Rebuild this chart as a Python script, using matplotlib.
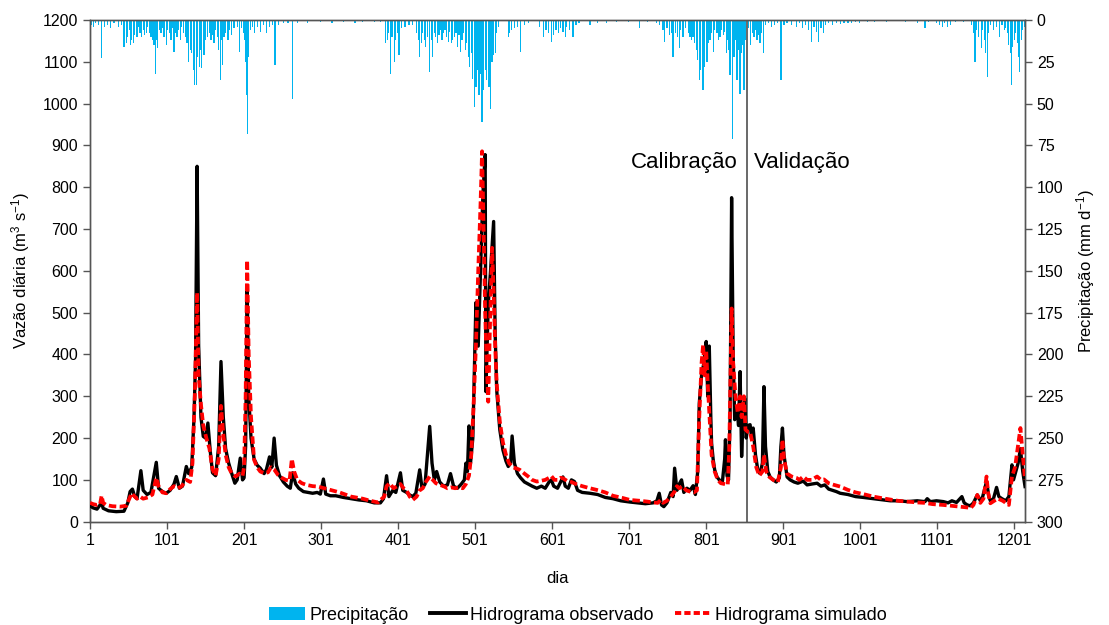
import matplotlib
matplotlib.use("Agg")
import matplotlib.pyplot as plt
from matplotlib.patches import Patch
from matplotlib.lines import Line2D

plt.rcParams['font.family'] = ['Liberation Sans', 'DejaVu Sans']
plt.rcParams['mathtext.fontset'] = 'custom'
plt.rcParams['mathtext.rm'] = 'Liberation Sans'
plt.rcParams['mathtext.it'] = 'Liberation Sans'

# observed hydrograph (day, m3/s)
obs_days = [1, 5, 10, 16, 18, 25, 35, 45, 50, 53, 56, 59, 62, 67, 70, 75, 80, 87, 90, 95,
            100, 105, 110, 113, 117, 121, 126, 129, 133, 136, 138, 140, 142, 145, 148, 151, 154, 157, 160, 164,
            168, 171, 174, 177, 181, 185, 189, 192, 196, 199, 201, 203, 205, 207, 210, 214, 218, 222, 227, 230,
            234, 237, 240, 243, 247, 252, 257, 261, 264, 268, 272, 278, 284, 290, 296, 300, 304, 307, 313, 320,
            330, 340, 350, 360, 370, 378, 382, 386, 389, 394, 398, 404, 407, 412, 416, 420, 424, 429, 432, 436,
            442, 445, 448, 451, 455, 460, 465, 469, 473, 478, 483, 487, 489, 491, 493, 495, 498, 502, 505, 508,
            511, 514, 515, 518, 521, 525, 527, 529, 533, 537, 541, 544, 547, 549, 552, 556, 560, 565, 570, 575,
            581, 587, 592, 597, 600, 603, 608, 612, 615, 618, 622, 626, 630, 634, 640, 650, 660, 670, 680, 690,
            702, 712, 722, 732, 737, 740, 743, 746, 750, 755, 758, 760, 763, 766, 769, 772, 776, 780, 784, 787,
            790, 792, 795, 798, 801, 803, 805, 807, 808, 810, 812, 815, 818, 822, 825, 826, 828, 830, 832, 834,
            836, 838, 841, 843, 845, 847, 849, 851, 853, 855, 858, 860, 862, 865, 868, 871, 874, 876, 878, 881,
            884, 888, 892, 896, 898, 900, 902, 906, 910, 915, 920, 927, 932, 938, 945, 950, 955, 960, 965, 970,
            975, 985, 995, 1005, 1018, 1030, 1040, 1050, 1062, 1075, 1085, 1088, 1092, 1100, 1109, 1115, 1120, 1126, 1133, 1136,
            1140, 1144, 1148, 1153, 1157, 1160, 1165, 1168, 1170, 1174, 1178, 1181, 1185, 1190, 1194, 1198, 1200, 1203, 1206, 1209,
            1212, 1215]
obs_q = [38, 33, 30, 45, 32, 26, 24, 25, 45, 72, 78, 60, 55, 122, 75, 65, 70, 142, 80, 72,
         68, 75, 90, 108, 80, 85, 132, 115, 130, 250, 390, 850, 420, 250, 204, 200, 236, 170, 117, 110,
         180, 383, 250, 175, 140, 115, 92, 100, 152, 100, 105, 180, 560, 300, 200, 150, 135, 128, 115, 125,
         155, 130, 200, 135, 110, 95, 85, 80, 117, 90, 80, 72, 70, 68, 70, 66, 102, 66, 62, 62,
         58, 55, 52, 50, 45, 45, 55, 110, 60, 75, 70, 117, 75, 70, 64, 60, 68, 124, 80, 90,
         228, 140, 100, 120, 95, 85, 88, 115, 85, 80, 90, 100, 140, 120, 229, 140, 200, 524, 420, 600,
         780, 878, 311, 520, 600, 718, 450, 315, 220, 172, 145, 132, 140, 205, 140, 115, 105, 95, 90, 85,
         80, 85, 80, 95, 100, 85, 80, 95, 107, 85, 80, 100, 96, 75, 70, 68, 65, 58, 55, 50,
         47, 45, 43, 45, 50, 68, 40, 36, 45, 70, 60, 128, 75, 90, 100, 70, 80, 75, 86, 65,
         120, 283, 350, 380, 431, 300, 420, 250, 188, 150, 124, 107, 100, 95, 150, 196, 110, 100, 250, 775,
         400, 244, 270, 230, 359, 156, 250, 295, 200, 230, 232, 200, 224, 160, 124, 115, 140, 323, 180, 120,
         107, 100, 95, 105, 180, 224, 160, 107, 100, 95, 92, 97, 88, 90, 92, 85, 88, 78, 75, 72,
         68, 65, 60, 58, 55, 52, 50, 50, 48, 50, 48, 55, 48, 50, 48, 45, 50, 46, 60, 45,
         40, 38, 45, 64, 50, 60, 96, 60, 50, 55, 82, 60, 55, 50, 60, 136, 100, 120, 140, 175,
         120, 84]

# simulated hydrograph (day, m3/s)
sim_days = [1, 5, 10, 14, 16, 18, 22, 30, 40, 48, 52, 55, 58, 62, 66, 70, 76, 82, 87, 90,
            95, 100, 105, 110, 115, 120, 126, 131, 134, 137, 140, 142, 145, 148, 152, 156, 160, 164, 168, 171,
            174, 177, 181, 185, 190, 195, 199, 201, 203, 205, 207, 210, 214, 218, 222, 227, 232, 236, 240, 245,
            250, 255, 260, 263, 266, 270, 276, 282, 290, 297, 305, 315, 325, 340, 355, 365, 375, 380, 383, 386,
            390, 395, 400, 404, 408, 412, 416, 420, 425, 429, 433, 437, 442, 446, 450, 455, 460, 465, 470, 475,
            480, 485, 489, 493, 496, 499, 502, 505, 508, 510, 512, 514, 516, 518, 520, 523, 525, 527, 529, 533,
            537, 541, 545, 550, 555, 559, 565, 570, 575, 581, 587, 592, 597, 600, 604, 608, 612, 615, 620, 626,
            632, 640, 650, 659, 670, 680, 692, 702, 715, 725, 732, 738, 742, 745, 750, 755, 760, 763, 766, 770,
            775, 780, 785, 789, 792, 795, 797, 799, 801, 803, 805, 808, 812, 816, 820, 825, 829, 831, 834, 836,
            839, 842, 845, 847, 850, 852, 855, 858, 862, 866, 870, 874, 876, 879, 883, 888, 894, 898, 900, 902,
            906, 912, 918, 922, 927, 932, 938, 945, 950, 954, 960, 967, 975, 985, 995, 1005, 1018, 1030, 1040, 1050,
            1062, 1075, 1085, 1095, 1109, 1120, 1130, 1140, 1144, 1148, 1153, 1157, 1161, 1165, 1167, 1170, 1175, 1180, 1186, 1190,
            1194, 1198, 1202, 1205, 1209, 1212, 1215]
sim_q = [45, 42, 40, 42, 62, 45, 40, 37, 36, 38, 55, 68, 62, 55, 60, 55, 58, 65, 105, 85,
         70, 68, 78, 85, 80, 85, 100, 95, 140, 300, 548, 350, 280, 230, 200, 175, 125, 110, 150, 277,
         210, 160, 130, 115, 108, 115, 110, 130, 300, 625, 400, 250, 148, 130, 120, 116, 118, 130, 125, 112,
         105, 100, 98, 150, 120, 100, 92, 88, 85, 84, 80, 75, 70, 60, 55, 50, 46, 55, 60, 85,
         92, 80, 85, 90, 80, 75, 60, 52, 60, 75, 80, 95, 108, 100, 92, 88, 85, 80, 82, 80,
         82, 80, 90, 110, 160, 280, 420, 600, 760, 886, 700, 500, 380, 287, 450, 655, 550, 420, 330, 240,
         190, 160, 140, 130, 127, 124, 115, 108, 100, 96, 98, 100, 105, 109, 100, 100, 105, 104, 98, 95,
         90, 85, 80, 76, 70, 62, 57, 52, 50, 48, 46, 45, 52, 45, 50, 60, 72, 85, 80, 85,
         75, 72, 70, 75, 250, 380, 423, 350, 410, 330, 260, 160, 120, 100, 92, 90, 88, 180, 510, 380,
         300, 260, 300, 250, 300, 220, 215, 215, 180, 130, 110, 120, 160, 120, 107, 100, 95, 130, 196, 150,
         115, 108, 105, 100, 108, 100, 100, 108, 100, 101, 92, 88, 84, 76, 70, 66, 60, 56, 53, 50,
         48, 46, 45, 42, 40, 38, 36, 34, 32, 40, 64, 45, 55, 108, 70, 44, 50, 55, 50, 45,
         40, 108, 130, 170, 224, 160, 100]

# daily rainfall (day, mm/d)
rain_days = [1, 3, 5, 8, 12, 16, 20, 24, 28, 32, 38, 42, 45, 48, 50, 52, 54, 55, 57, 59,
             62, 64, 66, 68, 70, 72, 74, 76, 78, 80, 82, 84, 86, 88, 89, 91, 93, 95, 97, 100,
             102, 104, 106, 108, 110, 112, 114, 116, 118, 120, 122, 125, 127, 129, 131, 133, 135, 137, 139, 141,
             143, 144, 146, 148, 149, 151, 153, 156, 158, 160, 162, 164, 166, 168, 170, 171, 173, 175, 177, 180,
             182, 185, 188, 192, 195, 198, 200, 202, 203, 204, 205, 206, 207, 209, 212, 215, 218, 222, 226, 230,
             234, 238, 241, 246, 252, 258, 264, 270, 283, 300, 315, 330, 345, 355, 370, 378, 385, 387, 389, 391,
             393, 396, 398, 400, 402, 405, 410, 415, 420, 425, 428, 429, 431, 433, 435, 437, 439, 442, 444, 446,
             448, 450, 452, 454, 456, 458, 460, 462, 464, 466, 468, 470, 472, 474, 476, 478, 480, 482, 484, 486,
             488, 490, 492, 494, 496, 498, 500, 502, 504, 506, 508, 510, 512, 514, 516, 518, 519, 521, 523, 525,
             527, 529, 531, 544, 546, 548, 552, 556, 560, 565, 570, 585, 590, 593, 596, 600, 603, 606, 609, 612,
             615, 618, 620, 624, 628, 632, 636, 650, 660, 672, 685, 700, 714, 725, 736, 740, 745, 747, 750, 753,
             756, 758, 761, 764, 766, 768, 771, 774, 778, 780, 782, 784, 786, 788, 790, 792, 794, 797, 799, 802,
             804, 806, 808, 810, 812, 815, 817, 819, 821, 823, 825, 827, 829, 830, 832, 833, 835, 837, 839, 841,
             843, 845, 847, 848, 850, 852, 856, 859, 861, 863, 865, 867, 869, 871, 873, 875, 878, 882, 886, 890,
             894, 898, 902, 906, 912, 918, 922, 926, 930, 934, 938, 941, 944, 947, 950, 953, 956, 960, 965, 970,
             975, 980, 985, 990, 995, 1000, 1010, 1020, 1035, 1045, 1060, 1075, 1085, 1090, 1100, 1104, 1108, 1110, 1114, 1118,
             1125, 1135, 1145, 1148, 1150, 1152, 1155, 1158, 1160, 1162, 1164, 1166, 1168, 1170, 1174, 1178, 1182, 1185, 1188, 1190,
             1192, 1194, 1196, 1197, 1199, 1201, 1203, 1205, 1206, 1208, 1210, 1212, 1214]
rain_mm = [8, 3, 4, 2, 3, 23, 4, 3, 5, 2, 4, 3, 16, 14, 10, 6, 15, 12, 14, 9,
           10, 4, 8, 10, 6, 9, 8, 4, 8, 10, 12, 15, 32, 12, 17, 6, 8, 5, 10, 15,
           6, 8, 12, 5, 19, 8, 10, 6, 12, 4, 8, 10, 14, 25, 18, 20, 30, 39, 39, 22,
           28, 18, 29, 15, 21, 12, 10, 8, 12, 9, 14, 6, 10, 18, 36, 12, 27, 10, 8, 12,
           6, 9, 5, 4, 19, 5, 8, 12, 25, 45, 68, 22, 15, 6, 4, 8, 4, 7, 3, 8,
           4, 3, 27, 3, 2, 2, 47, 2, 2, 1, 2, 1, 1.5, 1, 1, 1, 14, 12, 8, 32,
           10, 25, 12, 8, 21, 5, 4, 3, 3, 8, 12, 22, 14, 8, 12, 16, 10, 31, 12, 22,
           8, 10, 14, 9, 6, 12, 8, 6, 10, 13, 7, 14, 12, 10, 8, 16, 9, 19, 12, 8,
           18, 14, 22, 28, 20, 35, 52, 40, 30, 45, 32, 61, 42, 30, 36, 28, 40, 53, 25, 21,
           20, 8, 4, 10, 8, 6, 5, 4, 19, 3, 2, 4, 10, 6, 8, 13, 9, 6, 8, 5,
           7, 10, 4, 6, 10, 3, 2, 3, 2, 1.5, 1, 1, 5, 1, 2, 3, 6, 13, 5, 9,
           8, 22, 8, 10, 17, 6, 10, 5, 8, 10, 12, 10, 14, 18, 24, 36, 30, 42, 28, 25,
           14, 12, 8, 19, 6, 8, 12, 10, 6, 9, 7, 20, 12, 18, 33, 14, 71, 22, 12, 36,
           18, 44, 20, 15, 42, 12, 5, 15, 8, 10, 6, 12, 9, 14, 8, 20, 3, 2, 4, 3,
           2, 36, 3, 2, 3, 4, 2, 5, 3, 6, 13, 4, 7, 13, 5, 8, 3, 2, 3, 2,
           2.5, 2, 2, 1.5, 1, 1.5, 1, 1, 1, 0.8, 1, 1.5, 5, 1, 2, 3, 4, 2, 4, 3,
           1, 1, 3, 8, 25, 6, 10, 17, 6, 12, 20, 34, 8, 3, 6, 4, 10, 3, 6, 5,
           8, 15, 20, 39, 16, 12, 8, 14, 22, 31, 12, 6, 4]

split_day = 854

fig = plt.figure(figsize=(11.09, 6.25), dpi=100)
ax = fig.add_axes([0.0812, 0.1653, 0.8431, 0.8027])
ax2 = ax.twinx()

ax2.bar(rain_days, rain_mm, width=1.6, color='#00b4ef', edgecolor='none', zorder=1)
ax2.set_ylim(300, 0)
ax2.set_yticks(range(0, 301, 25))

ax.set_zorder(ax2.get_zorder() + 1)
ax.patch.set_visible(False)

ax.plot(obs_days, obs_q, color='black', lw=2.4, zorder=3)
ax.plot(sim_days, sim_q, color='#ff0000', lw=2.7, ls=(0, (2.0, 0.9)), zorder=4)
ax.axvline(split_day, color='#404040', lw=1.1, zorder=2)

ax.text(split_day - 12, 860, 'Calibração', ha='right', va='center', fontsize=16)
ax.text(split_day + 9, 860, 'Validação', ha='left', va='center', fontsize=16)

ax.set_xlim(1, 1215)
ax.set_ylim(0, 1200)
ax.set_xticks(range(1, 1202, 100))
ax.set_yticks(range(0, 1201, 100))

for a in (ax, ax2):
    a.tick_params(labelsize=11.5, length=5, width=1, color='#555555', direction='out')
    for s in a.spines.values():
        s.set_color('#555555')
        s.set_linewidth(1)

ax.set_xlabel('dia', fontsize=12, labelpad=16)
ax.set_ylabel('Vazão diária (m$^3$ s$^{-1}$)', fontsize=12, labelpad=8)
ax2.set_ylabel('Precipitação (mm d$^{-1}$)', fontsize=12, labelpad=8)

handles = [Patch(facecolor='#00b4ef', edgecolor='none'),
           Line2D([], [], color='black', lw=2.8),
           Line2D([], [], color='#ff0000', lw=2.8, ls=(0, (1.6, 0.8)))]
labels = ['Precipitação', 'Hidrograma observado', 'Hidrograma simulado']
fig.legend(handles, labels, loc='center', bbox_to_anchor=(0.521, 0.016), ncol=3,
           frameon=False, fontsize=13, handlelength=2.0, columnspacing=1.2,
           handletextpad=0.2)

fig.savefig('out.png', dpi=100)
